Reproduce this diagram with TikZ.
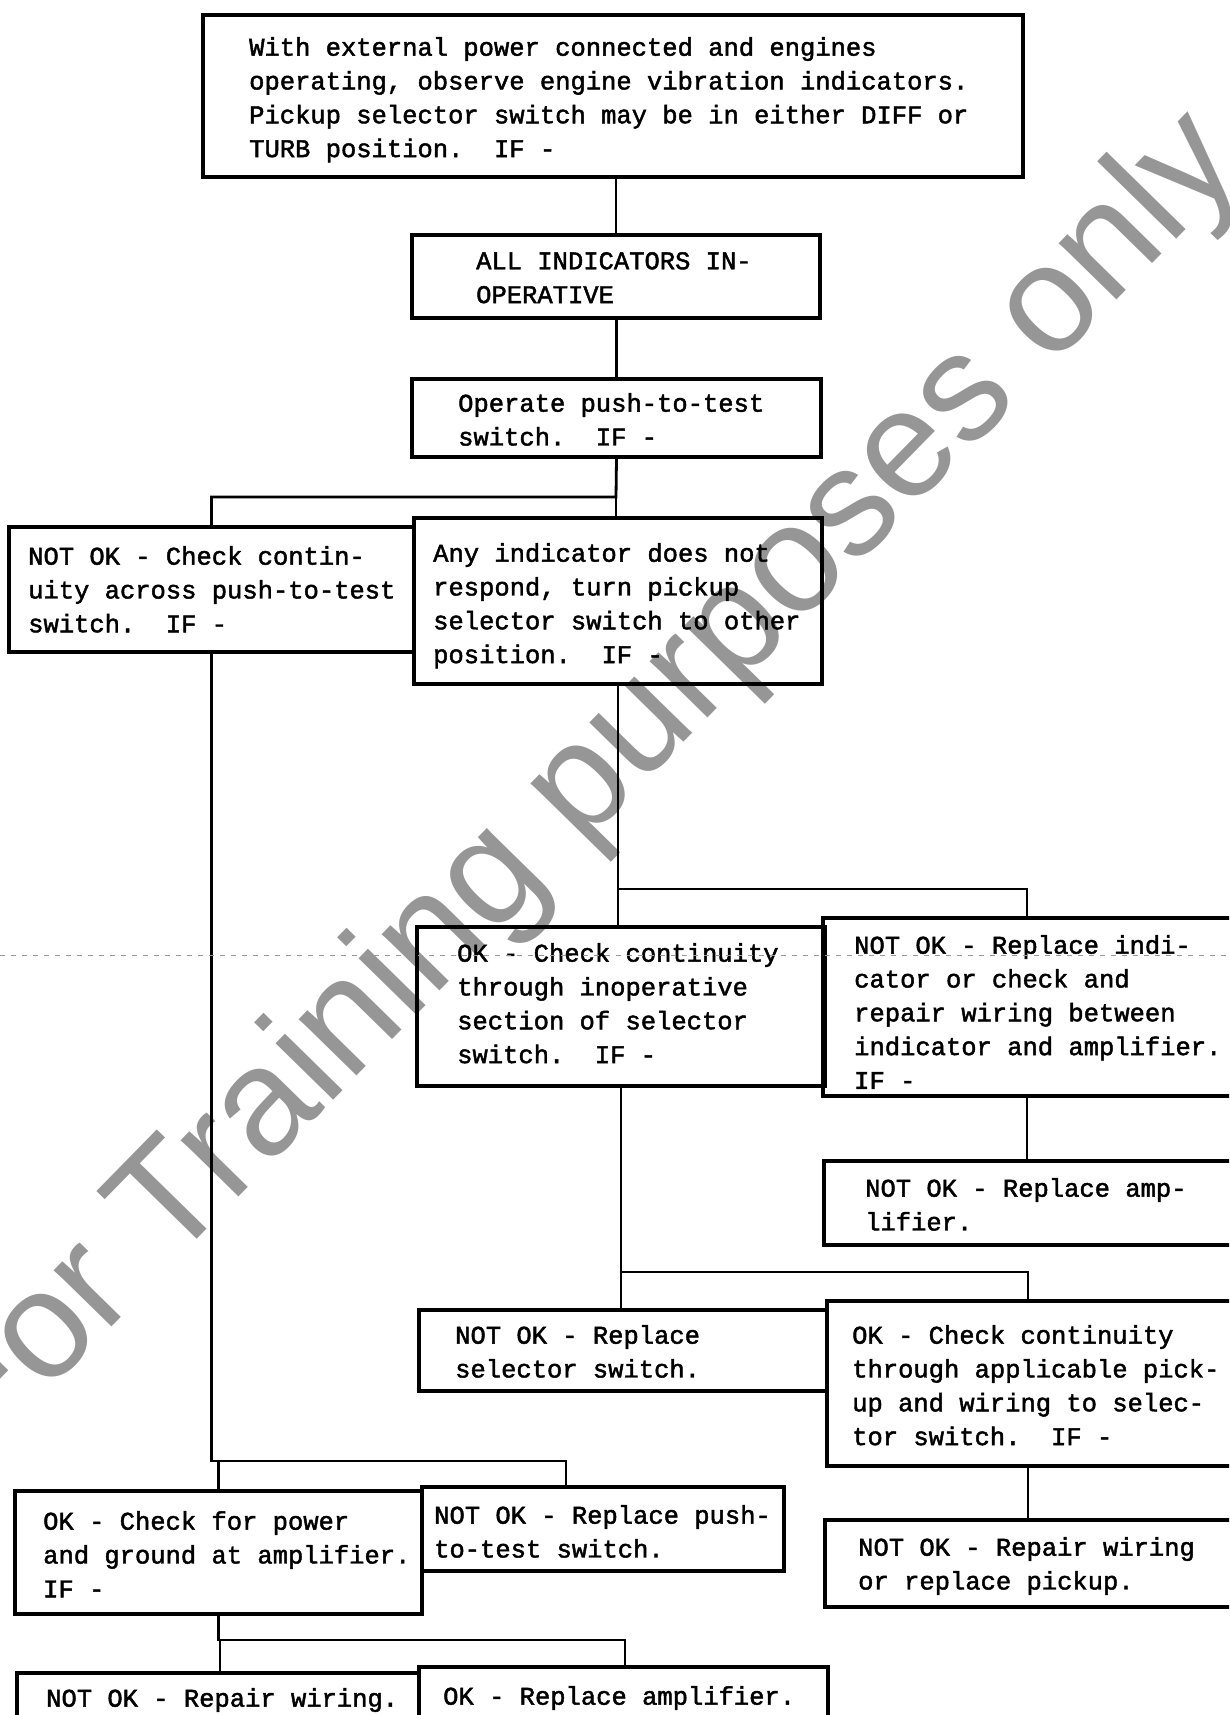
\documentclass[tikz,border=0pt]{standalone}
\usepackage{fontspec}
\usetikzlibrary{fit}
\newfontfamily\typewr{Liberation Mono}[FakeBold=1.8]
\newfontfamily\wmfont{Liberation Sans}
\definecolor{wmgray}{RGB}{150,150,150}
\begin{document}
\begin{tikzpicture}[x=1pt,y=-1pt,
  box/.style={draw=black, line width=3.4pt, inner sep=0pt},
  link/.style={draw=black, line width=2.8pt},
  txt/.style={anchor=north west, inner sep=0pt, align=left,
    font=\typewr\fontsize{25.5}{33.8}\selectfont},
  wm/.style={text=wmgray, font=\wmfont\fontsize{152.7}{152.7}\selectfont, inner sep=0pt},
  fold/.style={draw=black!40, line width=1pt, dash pattern=on 5pt off 6pt}]
\useasboundingbox (0,0) rectangle (1229,1715);
\clip (0,0) rectangle (1229,1715);

% ---- watermark (behind the chart) ----
\node[wm, rotate=45.6] (wmark) at (585,787) {For Training purposes only};

% ---- boxes ----
\node[box, fit={(203,15) (1023,177)}] (top) {};
\node[box, fit={(412,235) (820,318)}] (all) {};
\node[box, fit={(412,379) (821,457)}] (op) {};
\node[box, fit={(9,527) (414,652)}] (chk) {};
\node[box, fit={(414,518) (822,684)}] (any) {};
\node[box, fit={(417,927) (825,1086)}] (ok1) {};
\node[box, fit={(823,918) (1240,1096)}] (ind) {};
\node[box, fit={(824,1161) (1240,1245)}] (amp) {};
\node[box, fit={(419,1310) (827,1391)}] (sel) {};
\node[box, fit={(827,1301) (1240,1466)}] (ok2) {};
\node[box, fit={(825,1520) (1240,1607)}] (pip) {};
\node[box, fit={(15,1491) (422,1614)}] (pow) {};
\node[box, fit={(422,1487) (784,1571)}] (push) {};
\node[box, fit={(17,1673) (419,1730)}] (rw) {};
\node[box, fit={(419,1667) (828,1730)}] (ramp) {};

% ---- junctions ----
\coordinate (j1) at (616,497);
\coordinate (j2) at (618,889);
\coordinate (j3) at (1027,889);
\coordinate (j4) at (621,1272);
\coordinate (j5) at (1028,1272);
\coordinate (j6) at (211,1461);
\coordinate (j7) at (566,1461);
\coordinate (j8) at (220,1640);
\coordinate (j9) at (625,1640);

% ---- connectors ----
\draw[link] (all.north) -- (all.north |- top.south);
\draw[link] (op.north) -- (op.north |- all.south);
\draw[link] (op.south) -- (j1) -| (chk.north);
\draw[link] (j1) -- (j1 |- any.north);
\draw[link] (any.south) -- (any.south |- j2) -- (j3) -- (j3 |- ind.north);
\draw[link] (j2) -- (j2 |- ok1.north);
\draw[link] (j3 |- ind.south) -- (j3 |- amp.north);
\draw[link] (ok1.south) -- (ok1.south |- j4) -- (j5) -- (j5 |- ok2.north);
\draw[link] (j4) -- (j4 |- sel.north);
\draw[link] (j5 |- ok2.south) -- (j5 |- pip.north);
\draw[link] (chk.south) -- (chk.south |- j6) -- (j7) -- (j7 |- push.north);
\draw[link] (pow.north) -- (pow.north |- j6);
\draw[link] (pow.south) -- (pow.south |- j8) -- (j9) -- (j9 |- ramp.north);
\draw[link] (j8) -- (j8 |- rw.north);

% ---- texts ----
\node[txt] (top-t) at (249,37) {With external power connected and engines\\operating, observe engine vibration indicators.\\Pickup selector switch may be in either DIFF or\\TURB position.~~IF -};
\node[txt] (all-t) at (476,252) {ALL INDICATORS IN-\\OPERATIVE};
\node[txt] (op-t) at (458,393) {Operate push-to-test\\switch.~~IF -};
\node[txt] (chk-t) at (28,546) {NOT OK - Check contin-\\uity across push-to-test\\switch.~~IF -};
\node[txt] (any-t) at (433,543) {Any indicator does not\\respond, turn pickup\\selector switch to other\\position.~~IF -};
\node[txt] (ok1-t) at (457,943) {OK - Check continuity\\through inoperative\\section of selector\\switch.~~IF -};
\node[txt] (ind-t) at (854,935) {NOT OK - Replace indi-\\cator or check and\\repair wiring between\\indicator and amplifier.\\IF -};
\node[txt] (amp-t) at (865,1178) {NOT OK - Replace amp-\\lifier.};
\node[txt] (sel-t) at (455,1325) {NOT OK - Replace\\selector switch.};
\node[txt] (ok2-t) at (852,1325) {OK - Check continuity\\through applicable pick-\\up and wiring to selec-\\tor switch.~~IF -};
\node[txt] (pip-t) at (858,1537) {NOT OK - Repair wiring\\or replace pickup.};
\node[txt] (pow-t) at (43,1511) {OK - Check for power\\and ground at amplifier.\\IF -};
\node[txt] (push-t) at (434,1505) {NOT OK - Replace push-\\to-test switch.};
\node[txt] (rw-t) at (46,1688) {NOT OK - Repair wiring.};
\node[txt] (ramp-t) at (443,1686) {OK - Replace amplifier.};

% ---- fold crease ----
\draw[fold] (0,955) -- (1229,955);
\end{tikzpicture}
\end{document}
